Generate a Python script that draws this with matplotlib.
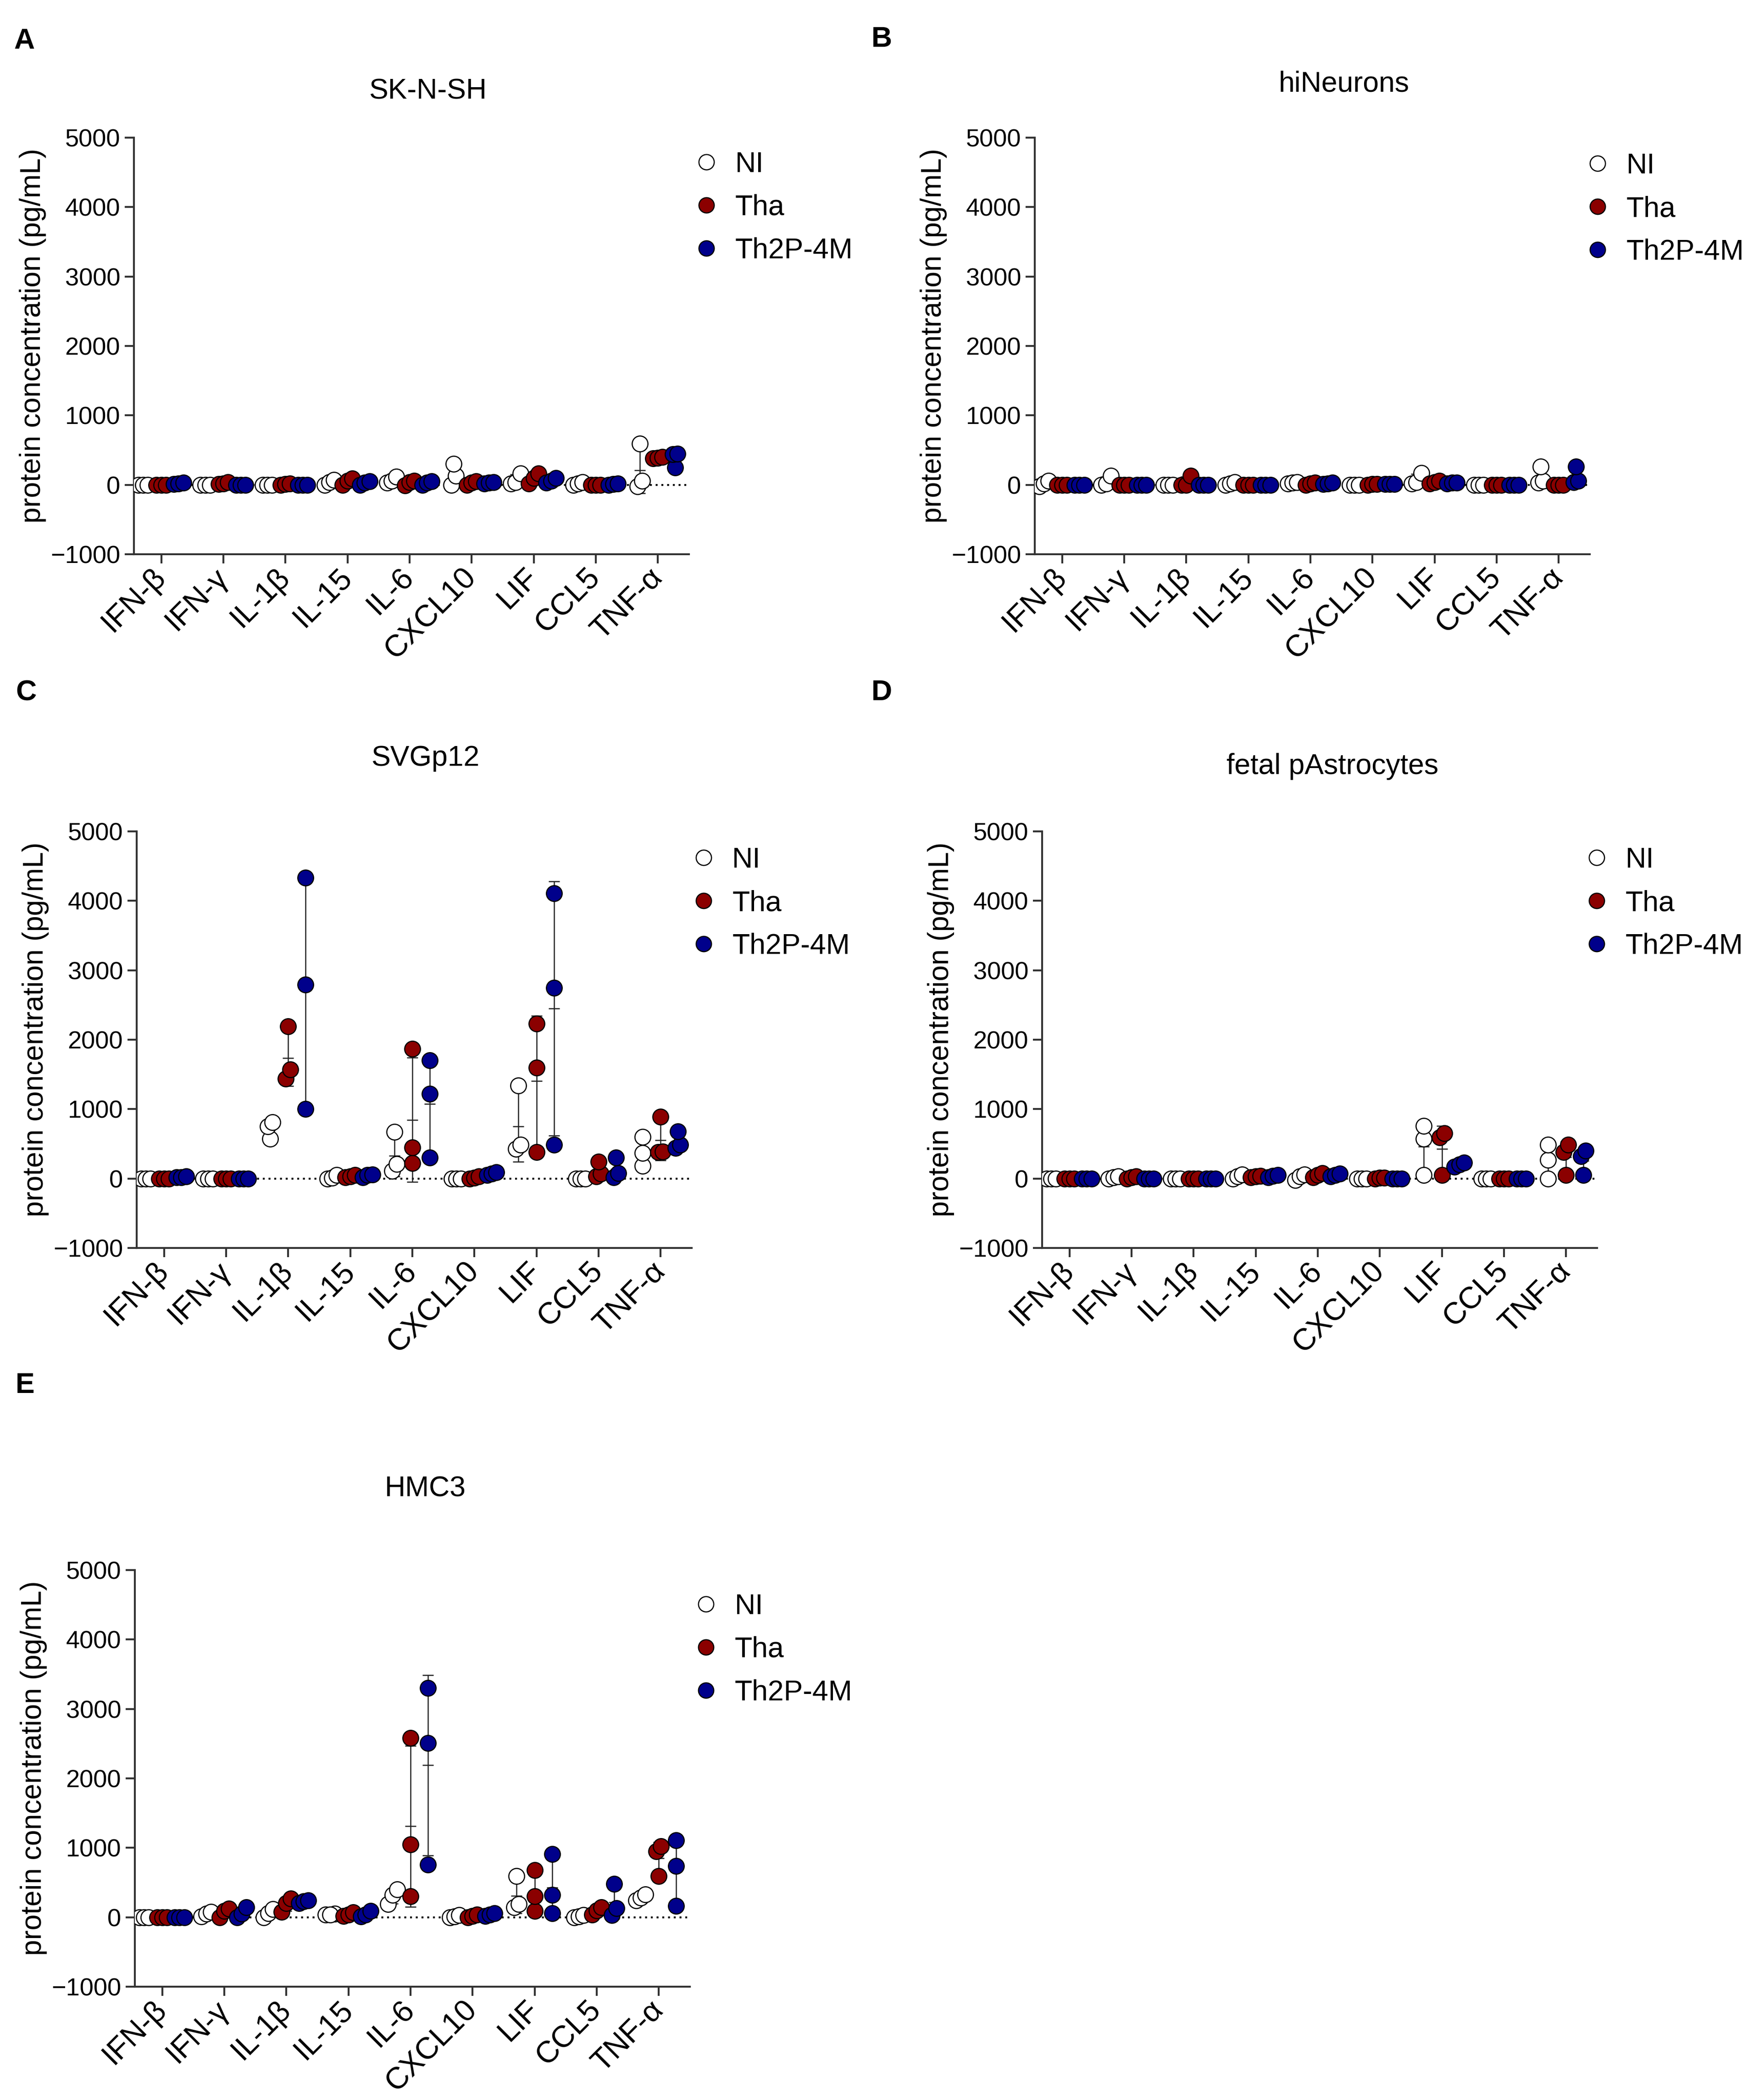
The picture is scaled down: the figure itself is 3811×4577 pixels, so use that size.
import numpy as np
import matplotlib.pyplot as plt
from matplotlib.lines import Line2D

plt.rcParams['font.family'] = ['Liberation Sans', 'DejaVu Sans']

W, H, DPI = 3811, 4577, 300

cytokines = ['IFN-β', 'IFN-γ', 'IL-1β', 'IL-15', 'IL-6', 'CXCL10', 'LIF', 'CCL5', 'TNF-α']
groups = ['NI', 'Tha', 'Th2P-4M']

# replicate values (pg/mL), one triplet per cytokine
# A - SK-N-SH
sknsh_ni = [[0, 0, 0], [0, 0, 0], [0, 0, 0], [0, 40, 70], [30, 60, 120],
            [0, 130, 300], [20, 40, 160], [0, 20, 40], [-20, 60, 590]]
sknsh_tha = [[0, 0, 0], [10, 20, 40], [0, 10, 20], [0, 60, 90], [-10, 40, 60],
             [0, 30, 50], [20, 100, 160], [0, 0, 0], [380, 390, 400]]
sknsh_th2p = [[10, 20, 30], [0, 0, 0], [0, 0, 0], [0, 30, 50], [0, 30, 50],
              [20, 30, 40], [30, 60, 100], [0, 10, 20], [250, 440, 450]]

# B - hiNeurons
hin_ni = [[-20, 20, 60], [0, 20, 130], [0, 0, 0], [0, 20, 40], [20, 30, 40],
          [0, 0, 0], [20, 40, 170], [0, 0, 0], [30, 60, 260]]
hin_tha = [[0, 0, 0], [0, 0, 0], [0, 0, 130], [0, 0, 0], [0, 20, 30],
           [0, 10, 10], [20, 40, 60], [0, 0, 0], [0, 0, 0]]
hin_th2p = [[0, 0, 0], [0, 0, 0], [0, 0, 0], [0, 0, 0], [10, 20, 30],
            [10, 10, 10], [20, 30, 30], [0, 0, 0], [40, 60, 260]]

# C - SVGp12
svg_ni = [[0, 0, 0], [0, 0, 0], [570, 750, 810], [0, 10, 50], [110, 210, 670],
          [0, 0, 0], [430, 490, 1340], [0, 0, 0], [180, 370, 600]]
svg_tha = [[0, 0, 0], [0, 0, 0], [1440, 1570, 2190], [20, 30, 50], [220, 450, 1870],
           [0, 10, 30], [380, 1600, 2230], [30, 70, 240], [380, 390, 890]]
svg_th2p = [[20, 20, 30], [0, 0, 0], [1000, 2790, 4330], [20, 50, 60], [300, 1220, 1700],
            [50, 70, 90], [490, 2750, 4110], [20, 80, 300], [440, 490, 680]]

# D - fetal pAstrocytes
fpa_ni = [[0, 0, 0], [0, 20, 30], [0, 0, 0], [0, 30, 60], [-20, 30, 60],
          [0, 0, 0], [50, 570, 760], [0, 0, 0], [0, 270, 490]]
fpa_tha = [[0, 0, 0], [0, 20, 30], [0, 0, 0], [20, 30, 40], [20, 50, 80],
           [0, 10, 10], [50, 590, 650], [0, 0, 0], [50, 380, 490]]
fpa_th2p = [[0, 0, 0], [0, 0, 0], [0, 0, 0], [20, 40, 50], [30, 50, 70],
            [0, 0, 0], [170, 200, 230], [0, 0, 0], [50, 320, 400]]

# E - HMC3
hmc_ni = [[0, 0, 0], [10, 50, 80], [0, 60, 120], [40, 50, 40], [190, 320, 400],
          [0, 10, 30], [140, 190, 590], [0, 10, 30], [240, 280, 330]]
hmc_tha = [[0, 0, 0], [0, 90, 125], [80, 200, 270], [20, 40, 70], [300, 1050, 2580],
           [0, 20, 40], [90, 300, 680], [40, 100, 140], [590, 950, 1020]]
hmc_th2p = [[0, 0, 0], [0, 50, 140], [200, 230, 240], [10, 40, 90], [760, 2510, 3300],
            [20, 40, 60], [60, 320, 910], [30, 130, 480], [160, 740, 1110]]

yticks = [-1000, 0, 1000, 2000, 3000, 4000, 5000]

# panel: letter, title, data, axes left/top px, title px, letter px, legend anchor (axes coords)
panels = [
    ('A', 'SK-N-SH', [sknsh_ni, sknsh_tha, sknsh_th2p], (292, 300), (933, 199), (30, 90), (0.99, 0.996)),
    ('B', 'hiNeurons', [hin_ni, hin_tha, hin_th2p], (2256, 300), (2930, 183), (1900, 85), (0.973, 0.992)),
    ('C', 'SVGp12', [svg_ni, svg_tha, svg_th2p], (298, 1812), (927, 1652), (34, 1510), (0.98, 0.991)),
    ('D', 'fetal pAstrocytes', [fpa_ni, fpa_tha, fpa_th2p], (2272, 1812), (2905, 1670), (1900, 1510), (0.958, 0.991)),
    ('E', 'HMC3', [hmc_ni, hmc_tha, hmc_th2p], (294, 3422), (927, 3245), (34, 3020), (0.988, 0.973)),
]

face = ['white', '#8B0000', '#00008B']
group_off = [-0.29, 0.0, 0.28]
AX_W, AX_H = 1210, 908
axis_col = '#333333'


def spread(vals, step=0.075, gap=170):
    # side-by-side offsets for points that would overlap
    vals = np.asarray(vals, float)
    order = np.argsort(vals)
    offs = np.zeros(len(vals))
    clusters = [[order[0]]]
    for i in order[1:]:
        if vals[i] - vals[clusters[-1][-1]] < gap:
            clusters[-1].append(i)
        else:
            clusters.append([i])
    for c in clusters:
        n = len(c)
        for k, i in enumerate(c):
            offs[i] = (k - (n - 1) / 2) * step
    return offs


fig = plt.figure(figsize=(W / DPI, H / DPI), dpi=DPI)

for letter, title, data, (lx, ty), (tx, tty), (px, py), leg in panels:
    ax = fig.add_axes([lx / W, 1 - (ty + AX_H) / H, AX_W / W, AX_H / H])
    ax.axhline(0, ls=(0, (1, 2)), color='black', lw=1.0, zorder=1)

    for g, series in enumerate(data):
        for c, vals in enumerate(series):
            xc = c + group_off[g]
            m = np.mean(vals)
            sd = np.std(vals, ddof=1)
            ax.errorbar(xc, m, yerr=sd, fmt='none', ecolor='#222222',
                        elinewidth=0.6, capsize=2.9, capthick=0.6, zorder=2)
            ax.plot(xc, m, marker='_', ms=5.8, mew=0.6, color='#222222', zorder=2)
            ax.scatter(xc + spread(vals), vals, s=68, facecolor=face[g],
                       edgecolor='black', linewidth=0.6, zorder=3 + g)

    ax.set_xlim(-0.44, 8.5)
    ax.set_ylim(-1000, 5000)
    ax.set_yticks(yticks)
    ax.set_xticks(range(len(cytokines)))
    ax.set_xticklabels(cytokines, rotation=45, ha='right', va='center',
                       rotation_mode='anchor')
    ax.tick_params(axis='both', length=4.8, width=1.0, color=axis_col, labelsize=13, pad=2.4)
    ax.tick_params(axis='x', pad=5, labelsize=16)
    for s in ['top', 'right']:
        ax.spines[s].set_visible(False)
    for s in ['left', 'bottom']:
        ax.spines[s].set_linewidth(1.0)
        ax.spines[s].set_color(axis_col)
    ax.set_ylabel('protein concentration (pg/mL)', fontsize=15)
    ax.yaxis.set_label_coords(-0.158, 0.525)

    handles = [Line2D([], [], ls='none', marker='o', ms=8, mfc=face[g], mec='black', mew=0.6)
               for g in range(3)]
    ax.legend(handles, groups, loc='upper left', bbox_to_anchor=leg, frameon=False,
              fontsize=15, handlelength=0.8, handletextpad=0.6, labelspacing=0.56,
              borderaxespad=0)

    fig.text(tx / W, 1 - tty / H, title, ha='center', va='center', fontsize=15)
    fig.text(px / W, 1 - py / H, letter, ha='left', va='center', fontsize=15, fontweight='bold')

fig.savefig('out.png', dpi=DPI, facecolor='white')
